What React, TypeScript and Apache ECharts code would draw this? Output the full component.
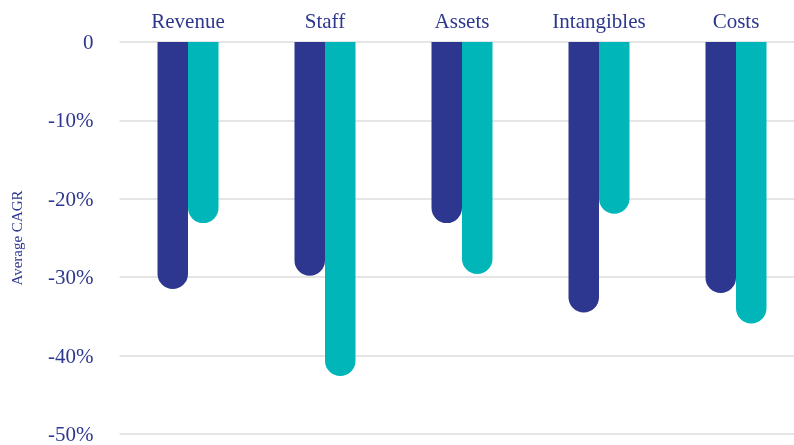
import React, { useEffect, useRef } from "react";
import * as echarts from "echarts";

const categories = ["Revenue", "Staff", "Assets", "Intangibles", "Costs"];
const seriesA = [-31.5, -29.8, -23.1, -34.5, -32.0];
const seriesB = [-23.1, -42.6, -29.6, -21.9, -35.9];
const yTicks = [0, -10, -20, -30, -40, -50];

const NAVY = "#2E378F";
const TEAL = "#00B6B9";
const FONT = "Liberation Serif";

export default function App() {
  const ref = useRef<HTMLDivElement>(null);
  useEffect(() => {
    if (!ref.current) return;
    const chart = echarts.init(ref.current, null, { renderer: "svg" });
    chart.setOption({
      animation: false,
      grid: {
        left: 119.5,
        right: -10.5,
        top: 42,
        bottom: 11,
        containLabel: false,
        outerBoundsMode: "none",
      },
      xAxis: {
        type: "category",
        data: categories,
        position: "top",
        axisLine: { show: false },
        axisTick: { show: false },
        axisLabel: { color: NAVY, fontFamily: FONT, fontSize: 21, margin: 11 },
      },
      yAxis: {
        type: "value",
        min: yTicks[yTicks.length - 1],
        max: yTicks[0],
        interval: 10,
        name: "Average CAGR",
        nameLocation: "middle",
        nameGap: 95,
        nameRotate: 90,
        nameTextStyle: { color: NAVY, fontFamily: FONT, fontSize: 15 },
        axisLine: { show: false },
        axisTick: { show: false },
        splitLine: { lineStyle: { color: "#DDDDDD", width: 1.5 } },
        axisLabel: {
          color: NAVY,
          fontFamily: FONT,
          fontSize: 21,
          margin: 26,
          formatter: (v: number) => (v === 0 ? "0" : `${v}%`),
        },
      },
      series: [
        {
          type: "bar",
          data: seriesA,
          barWidth: 30.5,
          barGap: "0%",
          itemStyle: { color: NAVY, borderRadius: [0, 0, 15.25, 15.25] },
        },
        {
          type: "bar",
          data: seriesB,
          barWidth: 30.5,
          barGap: "0%",
          itemStyle: { color: TEAL, borderRadius: [0, 0, 15.25, 15.25] },
        },
      ],
    });
    return () => chart.dispose();
  }, []);
  return (
    <div
      ref={ref}
      style={{ position: "fixed", left: 0, top: 0, width: 794, height: 445 }}
    />
  );
}
